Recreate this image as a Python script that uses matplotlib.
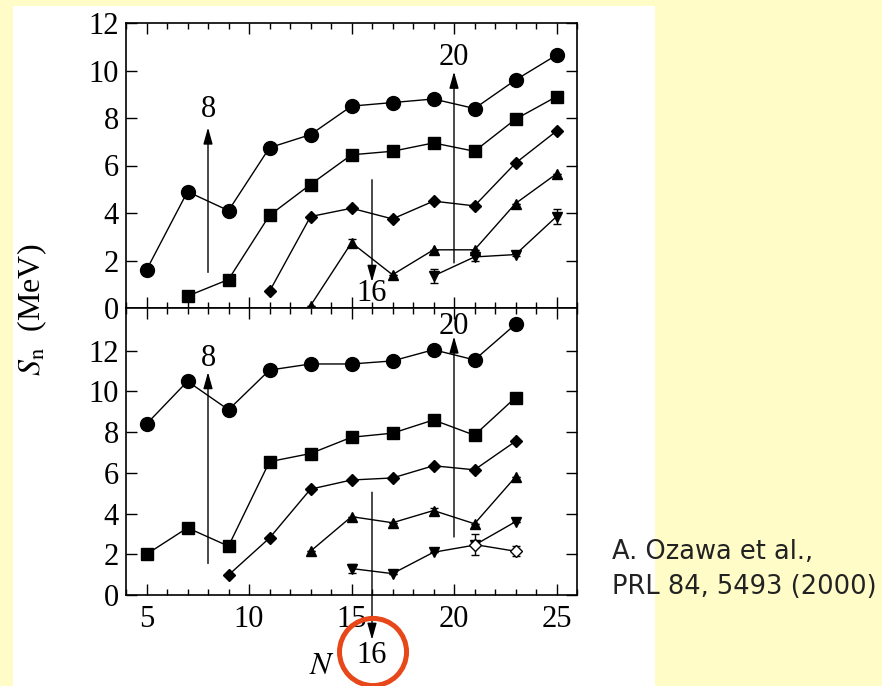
import matplotlib
matplotlib.use("Agg")
import matplotlib.pyplot as plt
from matplotlib.patches import Ellipse, Rectangle
from matplotlib.ticker import MultipleLocator

# ---------------- data ----------------
# upper panel
top_circ_N = [5, 7, 9, 11, 13, 15, 17, 19, 21, 23, 25]
top_circ_S = [1.6, 4.9, 4.1, 6.75, 7.3, 8.5, 8.65, 8.8, 8.4, 9.6, 10.65]
top_sq_N = [7, 9, 11, 13, 15, 17, 19, 21, 23, 25]
top_sq_S = [0.5, 1.2, 3.9, 5.2, 6.45, 6.6, 6.95, 6.6, 7.95, 8.9]
top_dia_N = [11, 13, 15, 17, 19, 21, 23, 25]
top_dia_S = [0.7, 3.85, 4.2, 3.75, 4.5, 4.3, 6.1, 7.45]
top_tri_N = [13, 15, 17, 19, 21, 23, 25]
top_tri_S = [0.1, 2.75, 1.4, 2.45, 2.45, 4.4, 5.65]
top_tri_err = [0, 0.15, 0, 0, 0, 0, 0]
top_inv_N = [19, 21, 23, 25]
top_inv_S = [1.35, 2.15, 2.25, 3.85]
top_inv_err = [0.3, 0.15, 0.05, 0.3]

# lower panel
bot_circ_N = [5, 7, 9, 11, 13, 15, 17, 19, 21, 23]
bot_circ_S = [8.4, 10.5, 9.1, 11.05, 11.35, 11.35, 11.5, 12.05, 11.55, 13.3]
bot_sq_N = [5, 7, 9, 11, 13, 15, 17, 19, 21, 23]
bot_sq_S = [2.0, 3.3, 2.4, 6.55, 6.95, 7.75, 7.95, 8.6, 7.85, 9.7]
bot_dia_N = [9, 11, 13, 15, 17, 19, 21, 23]
bot_dia_S = [0.98, 2.8, 5.2, 5.65, 5.75, 6.35, 6.15, 7.55]
bot_tri_N = [13, 15, 17, 19, 21, 23]
bot_tri_S = [2.15, 3.85, 3.55, 4.15, 3.5, 5.8]
bot_tri_err = [0, 0, 0, 0.1, 0, 0]
bot_inv_N = [15, 17, 19, 21, 23]
bot_inv_S = [1.3, 1.05, 2.1, 2.45, 3.6]
bot_inv_err = [0.2, 0, 0, 0, 0]
bot_open_N = [21, 23]
bot_open_S = [2.48, 2.15]
bot_open_err = [0.5, 0.25]

# shell-closure arrows: (N, tail, tip, label_y, label)
top_arrows = [(8, 1.5, 7.6, 8.35, "8"), (16, 5.4, 1.1, 0.62, "16"), (20, 1.9, 9.95, 10.55, "20")]
bot_arrows = [(8, 1.55, 10.95, 11.6, "8"), (16, 5.05, -2.2, -2.95, "16"), (20, 2.85, 12.7, 13.2, "20")]

x_ticks = [5, 10, 15, 20, 25]
y_ticks = [0, 2, 4, 6, 8, 10, 12]

# ---------------- style ----------------
plt.rcParams["font.family"] = ["Liberation Serif", "DejaVu Serif"]
plt.rcParams["mathtext.fontset"] = "stix"
FS = 22

fig = plt.figure(figsize=(8.82, 6.86), dpi=100, facecolor="#FFFCC8")
fig.patches.append(Rectangle((13 / 882, 0), (655 - 13) / 882, (686 - 6) / 686,
                             transform=fig.transFigure, facecolor="white",
                             edgecolor="none", zorder=-10))

L, W = 126 / 882, (577 - 126) / 882
ax1 = fig.add_axes([L, 1 - 308 / 686, W, (308 - 23) / 686])
ax2 = fig.add_axes([L, 1 - 595 / 686, W, (595 - 308) / 686])

lw = 1.0
mk = dict(color="black", lw=lw, mec="black")


def series(ax, N, S, marker, ms, err=None, mfc="black"):
    if err is None:
        ax.plot(N, S, marker=marker, ms=ms, mfc=mfc, zorder=3, **mk)
    else:
        ax.errorbar(N, S, yerr=err, marker=marker, ms=ms, mfc=mfc,
                    capsize=3, elinewidth=1, capthick=1, zorder=3, **mk)


series(ax1, top_circ_N, top_circ_S, "o", 10)
series(ax1, top_sq_N, top_sq_S, "s", 9)
series(ax1, top_dia_N, top_dia_S, "D", 6)
series(ax1, top_tri_N, top_tri_S, "^", 7.5, top_tri_err)
series(ax1, top_inv_N, top_inv_S, "v", 7.5, top_inv_err)

series(ax2, bot_circ_N, bot_circ_S, "o", 10)
series(ax2, bot_sq_N, bot_sq_S, "s", 9)
series(ax2, bot_dia_N, bot_dia_S, "D", 6)
series(ax2, bot_tri_N, bot_tri_S, "^", 7.5, bot_tri_err)
series(ax2, bot_inv_N, bot_inv_S, "v", 7.5, bot_inv_err)
series(ax2, bot_open_N, bot_open_S, "D", 6.5, bot_open_err, mfc="white")


def arrows(ax, lst):
    for n, tail, tip, ly, lab in lst:
        ax.annotate("", xy=(n, tip), xytext=(n, tail),
                    arrowprops=dict(arrowstyle="-|>,head_length=0.5,head_width=0.14",
                                    color="black", lw=1.0, shrinkA=0, shrinkB=0,
                                    mutation_scale=20),
                    annotation_clip=False, zorder=2)
        ax.text(n, ly, lab, ha="center", va="center", fontsize=FS, clip_on=False)


arrows(ax1, top_arrows)
arrows(ax2, bot_arrows)

# red circle around the lower "16"
ax2.add_patch(Ellipse((16.05, -2.8), 3.27, 3.3, facecolor="none", edgecolor="#E8471A",
                      lw=3.6, clip_on=False, zorder=5))

for ax, ylim in ((ax1, (0, 12)), (ax2, (0, 14.1))):
    ax.set_xlim(4, 26)
    ax.set_ylim(*ylim)
    ax.set_xticks(x_ticks)
    ax.xaxis.set_minor_locator(MultipleLocator(1))
    ax.set_yticks(y_ticks)
    ax.tick_params(which="both", direction="in", top=True, right=True, width=1.0,
                   labelsize=FS, pad=5)
    ax.tick_params(which="major", length=8)
    ax.tick_params(which="minor", length=4.5)
    ax.tick_params(axis="y", which="minor", left=False, right=False)
    for s in ax.spines.values():
        s.set_linewidth(1.2)
    ax.set_facecolor("white")

ax1.tick_params(labelbottom=False)
ax2.tick_params(axis="x", pad=7)

fig.text(32 / 882, 1 - 310 / 686, r"$S_\mathrm{n}$  (MeV)", rotation=90,
         ha="center", va="center", fontsize=FS + 1)
fig.text(322 / 882, 1 - 666 / 686, r"$N$", ha="center", va="center", fontsize=FS + 1)

fig.text(612 / 882, 1 - 559 / 686, "A. Ozawa et al.,", fontsize=18.5, color="#222222",
         family="DejaVu Sans", ha="left", va="baseline")
fig.text(612 / 882, 1 - 594 / 686, "PRL 84, 5493 (2000)", fontsize=18.5, color="#222222",
         family="DejaVu Sans", ha="left", va="baseline")

fig.savefig("out.png", dpi=100, facecolor=fig.get_facecolor())
